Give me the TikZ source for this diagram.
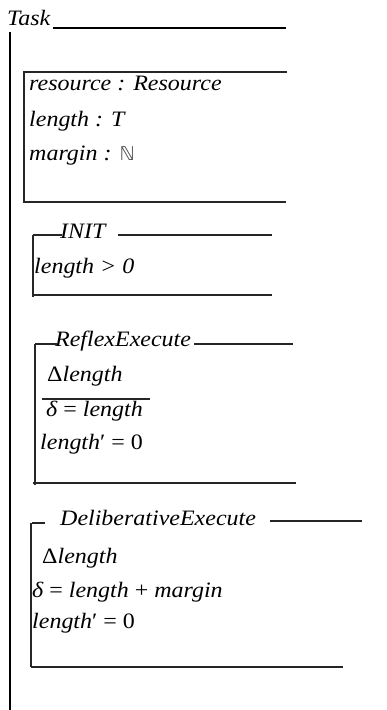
\documentclass[tikz,border=0pt]{standalone}
\usepackage{fontspec}
\setmainfont{Liberation Serif}[FakeStretch=1.09]
\newfontfamily\dvs{DejaVu Sans}
\begin{document}
\begin{tikzpicture}[x=1pt,y=-1pt,
  txt/.style={anchor=base west, inner sep=0pt, font=\fontsize{22}{26}\selectfont\itshape},
  boxline/.style={line width=1.4pt, draw=black!85},
  frameline/.style={line width=2.6pt, draw=black}]
\useasboundingbox (0,0) rectangle (387,710);
% outer schema Task
\node[txt] (task) at (7,25) {Task};
\draw[line width=2pt] (53,28) -- (286,28);
\draw[frameline] (10,32) -- (10,710);
% state box
\draw[boxline] (287,72) -- (24,72) -- (24,202);
\draw[boxline] (23,202) -- (286,202);
\node[txt] (res) at (29,90) {resource : Resource};
\node[txt] (len) at (29,126) {length : T};
\node[txt] (mar) at (29,160) {margin : {\upshape\dvs\fontsize{19}{23}\selectfont\color{black!70}ℕ}};
% INIT
\node[txt] (init) at (60,238) {INIT};
\draw[boxline] (33,235) -- (62,235);
\draw[boxline] (118,235) -- (272,235);
\draw[boxline] (33,235) -- (33,297);
\draw[boxline] (33,295) -- (272,295);
\node[txt] (initp) at (34,273) {length \textgreater{} 0};
% ReflexExecute
\node[txt] (rex) at (55,346) {ReflexExecute};
\draw[boxline] (35,344) -- (57,344);
\draw[boxline] (194,344) -- (293,344);
\draw[boxline] (35,344) -- (35,485);
\draw[boxline] (33,483) -- (296,483);
\node[txt] (rd) at (47,381) {{\upshape Δ}length};
\draw[boxline] (42,399) -- (150,399);
\node[txt] (rdelta) at (46,416) {δ {\upshape =} length};
\node[txt] (rl) at (40,449) {length{\upshape ′ = 0}};
% DeliberativeExecute
\node[txt] (dex) at (60,525) {DeliberativeExecute};
\draw[boxline] (32,523) -- (45,523);
\draw[boxline] (270,521) -- (362,521);
\draw[boxline] (31,523) -- (31,667);
\draw[boxline] (31,667) -- (343,667);
\node[txt] (dd) at (42,563) {{\upshape Δ}length};
\node[txt] (ddelta) at (32,597) {δ {\upshape =} length {\upshape +} margin};
\node[txt] (dl) at (32,628) {length{\upshape ′ = 0}};
\end{tikzpicture}
\end{document}
